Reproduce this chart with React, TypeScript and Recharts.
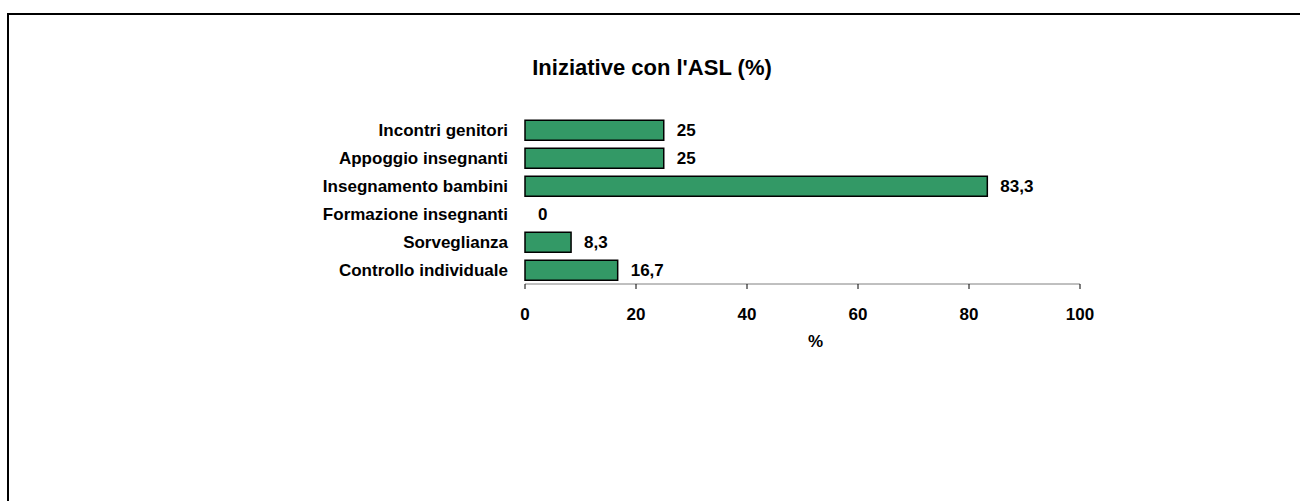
import { BarChart, Bar, XAxis, YAxis, LabelList, Rectangle } from "recharts";

const CATEGORIES = [
  "Incontri genitori",
  "Appoggio insegnanti",
  "Insegnamento bambini",
  "Formazione insegnanti",
  "Sorveglianza",
  "Controllo individuale",
];

const VALUES = [25, 25, 83.3, 0, 8.3, 16.7];

const X_TICKS = [0, 20, 40, 60, 80, 100];

const FONT = "'Liberation Sans', Arial, sans-serif";

const chartData = CATEGORIES.map((name, i) => ({ name, value: VALUES[i] }));

const fmt = (v: any) => String(v).replace(".", ",");

function PercentLabel(props: any) {
  const { viewBox } = props;
  if (!viewBox) return null;
  return (
    <text
      x={viewBox.x + viewBox.width / 2 + 13}
      y={viewBox.y + 57}
      textAnchor="middle"
      dominantBaseline="central"
      fontFamily={FONT}
      fontWeight="bold"
      fontSize={17}
      fill="#000"
    >
      %
    </text>
  );
}

// value label to the right of each bar (also drawn for zero-length bars)
function ValueLabel(props: any) {
  const { x, y, width, height, value } = props;
  if (value === undefined || value === null) return null;
  return (
    <text
      x={Number(x) + Number(width || 0) + 13}
      y={Number(y) + Number(height) / 2}
      textAnchor="start"
      dominantBaseline="central"
      fontFamily={FONT}
      fontWeight="bold"
      fontSize={17}
      fill="#000"
    >
      {fmt(value)}
    </text>
  );
}

// zero values keep a tiny min size so the label survives; don't draw the bar itself
function BarShape(props: any) {
  if (!props.value) return <g />;
  return <Rectangle {...props} />;
}

export default function App() {
  return (
    <div
      style={{
        position: "absolute",
        left: 0,
        top: 0,
        width: 1300,
        height: 501,
        overflow: "hidden",
        background: "#fff",
      }}
    >
      <div
        style={{
          position: "absolute",
          left: 7,
          top: 13,
          width: 1400,
          height: 600,
          border: "2px solid #000",
        }}
      />
      <div
        style={{
          position: "absolute",
          left: 0,
          top: 55,
          width: 1304,
          textAlign: "center",
          fontFamily: FONT,
          fontWeight: "bold",
          fontSize: 22,
          lineHeight: "25px",
          color: "#000",
        }}
      >
        Iniziative con l'ASL (%)
      </div>
      <div style={{ position: "absolute", left: 0, top: 0 }}>
        <BarChart
          width={1300}
          height={501}
          data={chartData}
          layout="vertical"
          margin={{ top: 116, right: 220, bottom: 167, left: 0 }}
          barCategoryGap="15%"
        >
          <XAxis
            type="number"
            domain={[0, 100]}
            ticks={X_TICKS}
            height={50}
            axisLine={{ stroke: "#808080", strokeWidth: 1 }}
            tickLine={{ stroke: "#000" }}
            tickSize={5}
            tickMargin={19}
            tick={{ fill: "#000", fontFamily: FONT, fontWeight: "bold", fontSize: 17 }}
            label={<PercentLabel />}
          />
          <YAxis
            type="category"
            dataKey="name"
            width={525}
            interval={0}
            axisLine={false}
            tickLine={false}
            tickSize={0}
            tickMargin={17}
            tick={{ fill: "#000", fontFamily: FONT, fontWeight: "bold", fontSize: 17 }}
          />
          <Bar
            dataKey="value"
            fill="#339966"
            stroke="#000"
            strokeWidth={1.5}
            minPointSize={0.01}
            shape={<BarShape />}
            isAnimationActive={false}
          >
            <LabelList dataKey="value" content={<ValueLabel />} />
          </Bar>
        </BarChart>
      </div>
    </div>
  );
}
